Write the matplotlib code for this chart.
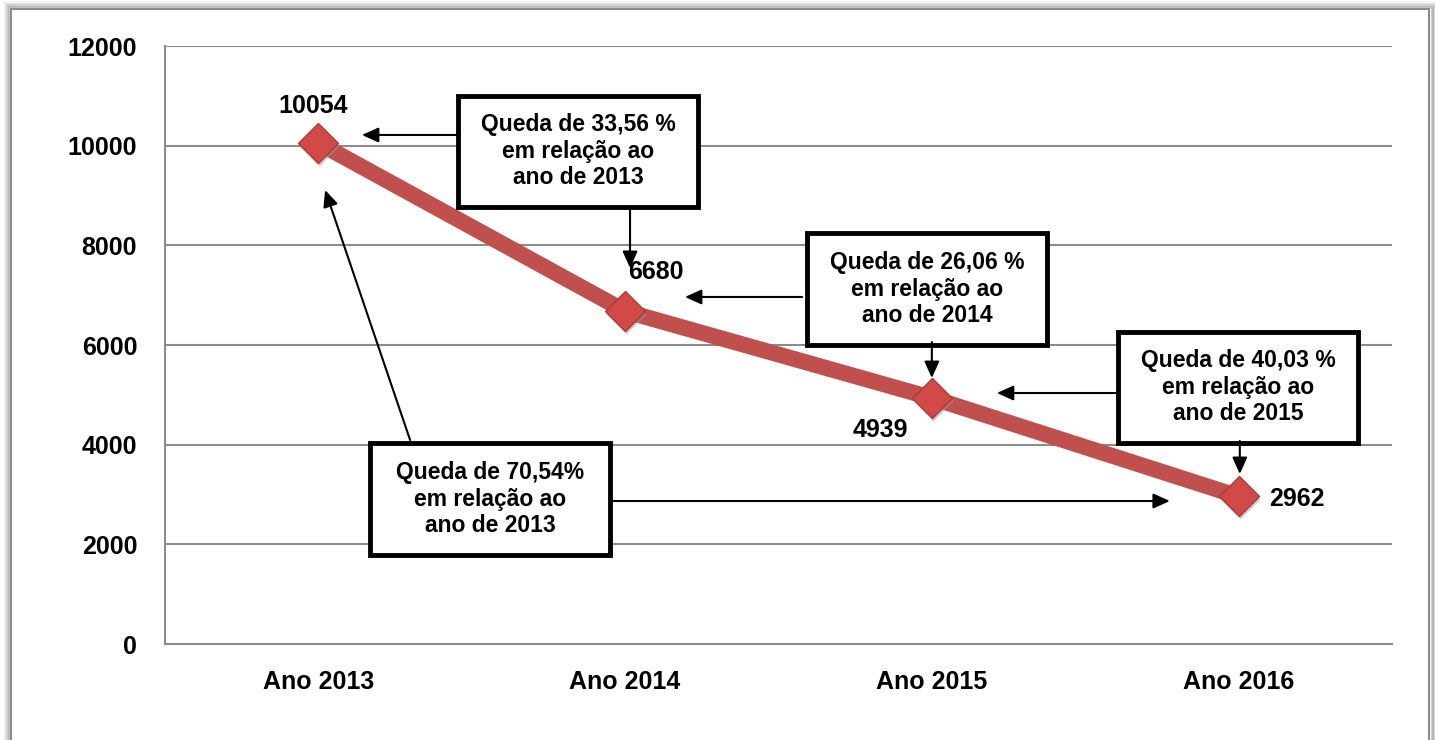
import numpy as np
import matplotlib
matplotlib.use('Agg')
from matplotlib import pyplot as plt
from matplotlib.patches import Rectangle

plt.rcParams['font.family'] = ['Liberation Sans', 'DejaVu Sans']
plt.rcParams['font.weight'] = 'bold'

anos = ['Ano 2013', 'Ano 2014', 'Ano 2015', 'Ano 2016']
valores = [10054, 6680, 4939, 2962]
yticks = [0, 2000, 4000, 6000, 8000, 10000, 12000]

textos = ['Queda de 33,56 %\nem relação ao\nano de 2013',
          'Queda de 26,06 %\nem relação ao\nano de 2014',
          'Queda de 40,03 %\nem relação ao\nano de 2015',
          'Queda de 70,54%\nem relação ao\nano de 2013']

vermelho = '#C0504D'

fig = plt.figure(figsize=(14.35, 7.4), dpi=100)

# moldura com sombra
for i, a in enumerate([0.08, 0.15, 0.25, 0.45]):
    off = (4 - i) * 1.5
    fig.patches.append(Rectangle((10 - off, -50), 1420 + 2 * off, 782 + off,
                                 transform=None, fill=False,
                                 edgecolor='#808080', alpha=a, lw=2))
fig.patches.append(Rectangle((11, -50), 1418, 781, transform=None,
                             fill=False, edgecolor='#8c8c8c', lw=1.5))

ax = fig.add_axes([0.115, 0.1297, 0.855, 0.8081])
x = np.arange(len(anos))

ax.plot(x, valores, color=vermelho, lw=11.5, solid_capstyle='butt', zorder=3)
# sombra dos marcadores
ax.plot(x, valores, linestyle='none', marker='D', markersize=20,
        markerfacecolor='#999999', markeredgecolor='none', alpha=0.5,
        zorder=3.5, transform=ax.transData +
        matplotlib.transforms.ScaledTranslation(1 / 100, -3 / 100,
                                                fig.dpi_scale_trans))
ax.plot(x, valores, linestyle='none', marker='D', markersize=20,
        markerfacecolor='#D14A48', markeredgecolor='#A83A38',
        markeredgewidth=1, zorder=4)

ax.set_xlim(-0.5, 3.5)
ax.set_ylim(0, 12000)
ax.set_yticks(yticks)
ax.set_xticks(x)
ax.set_xticklabels(anos)
ax.tick_params(length=0, labelsize=18, pad=19)
ax.tick_params(axis='y', pad=20)
for t in ax.get_xticklabels() + ax.get_yticklabels():
    t.set_fontweight('bold')
ax.grid(axis='y', color='#8c8c8c', lw=1.5)
ax.set_axisbelow(True)
for s in ['top', 'right']:
    ax.spines[s].set_visible(False)
for s in ['left', 'bottom']:
    ax.spines[s].set_color('#8c8c8c')
    ax.spines[s].set_linewidth(1.5)

# rótulos de dados
offs = [(-3.6, 26.6), (22, 28), (-37, -23), (42, -2)]
for xi, v, o in zip(x, valores, offs):
    ax.annotate(str(v), (xi, v), xytext=o, textcoords='offset points',
                ha='center', va='center', fontsize=18, fontweight='bold')

# caixas de texto (centro em dados)
centros = [(0.846, 9893), (1.984, 7124), (2.998, 5157), (0.56, 2910)]
bw, bh = 0.782, 2228
for (cx, cy), t in zip(centros, textos):
    ax.add_patch(Rectangle((cx - bw / 2, cy - bh / 2), bw, bh,
                           facecolor='white', edgecolor='black', lw=3.5,
                           zorder=6))
    ax.text(cx, cy, t, ha='center', va='center', fontsize=16.5,
            fontweight='bold', linespacing=1.22, zorder=7)

# setas
setas = [((0.455, 10215), (0.142, 10215)),
         ((1.016, 8770), (1.016, 7546)),
         ((1.577, 6964), (1.195, 6964)),
         ((2.0, 6061), (2.0, 5338)),
         ((2.603, 5037), (2.212, 5037)),
         ((3.004, 4074), (3.004, 3412)),
         ((0.299, 4094), (0.022, 9111)),
         ((0.951, 2870), (2.776, 2870))]
for ini, fim in setas:
    ax.annotate('', xy=fim, xytext=ini,
                arrowprops=dict(arrowstyle='-|>,head_length=1.0,head_width=0.45',
                                color='black', lw=1.5, shrinkA=0, shrinkB=0),
                zorder=8)

plt.savefig('out.png', dpi=100)
